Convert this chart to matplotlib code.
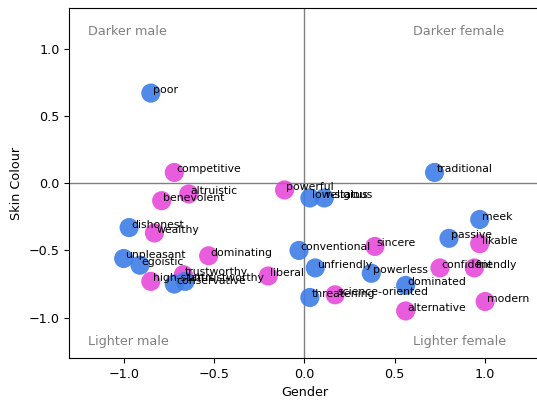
import matplotlib
matplotlib.use('Agg')
import matplotlib.pyplot as plt

# male-coded words (blue)
male_words = ['poor', 'dishonest', 'unpleasant', 'egoistic', 'conservative',
              'untrustworthy', 'low-status', 'religious', 'conventional',
              'unfriendly', 'threatening', 'powerless', 'dominated',
              'traditional', 'meek', 'passive']
male_gender = [-0.85, -0.97, -1.0, -0.91, -0.72, -0.66, 0.03, 0.11, -0.03,
               0.06, 0.03, 0.37, 0.56, 0.72, 0.97, 0.80]
male_skin = [0.67, -0.33, -0.56, -0.61, -0.75, -0.73, -0.11, -0.11, -0.50,
             -0.63, -0.85, -0.67, -0.76, 0.08, -0.27, -0.41]

# female-coded words (pink)
female_words = ['competitive', 'altruistic', 'benevolent', 'wealthy',
                'dominating', 'high-status', 'trustworthy', 'powerful',
                'liberal', 'science-oriented', 'sincere', 'likable',
                'confident', 'friendly', 'alternative', 'modern']
female_gender = [-0.72, -0.64, -0.79, -0.83, -0.53, -0.85, -0.67, -0.11,
                 -0.20, 0.17, 0.39, 0.97, 0.75, 0.94, 0.56, 1.0]
female_skin = [0.08, -0.08, -0.13, -0.37, -0.54, -0.73, -0.68, -0.05,
               -0.69, -0.83, -0.47, -0.45, -0.63, -0.63, -0.95, -0.88]

fig = plt.figure(figsize=(5.37, 4.0), dpi=100)
ax = fig.add_axes([0.1294, 0.105, 0.875, 0.874])

ax.axhline(0, color='gray', linewidth=1, zorder=1)
ax.axvline(0, color='gray', linewidth=1, zorder=1)

ax.scatter(female_gender, female_skin, s=190, color='#e63fd8', alpha=0.85,
           edgecolors='none', zorder=2)
ax.scatter(male_gender, male_skin, s=190, color='#3e7de6', alpha=0.9,
           edgecolors='none', zorder=3)

for w, x, y in zip(male_words, male_gender, male_skin):
    ax.text(x + 0.01, y, w, fontsize=7.8, zorder=4)
for w, x, y in zip(female_words, female_gender, female_skin):
    ax.text(x + 0.01, y, w, fontsize=7.8, zorder=4)

# quadrant labels
ax.text(-1.2, 1.1, 'Darker male', color='gray', fontsize=9.2)
ax.text(0.6, 1.1, 'Darker female', color='gray', fontsize=9.2)
ax.text(-1.2, -1.2, 'Lighter male', color='gray', fontsize=9.2)
ax.text(0.6, -1.2, 'Lighter female', color='gray', fontsize=9.2)

ax.set_xlim(-1.3, 1.3)
ax.set_ylim(-1.3, 1.3)
ax.set_xticks([-1.0, -0.5, 0.0, 0.5, 1.0])
ax.set_yticks([-1.0, -0.5, 0.0, 0.5, 1.0])
ax.tick_params(labelsize=9.2)
ax.set_xlabel('Gender', fontsize=9.2)
ax.set_ylabel('Skin Colour', fontsize=9.2)

fig.savefig('out.png', dpi=100)
